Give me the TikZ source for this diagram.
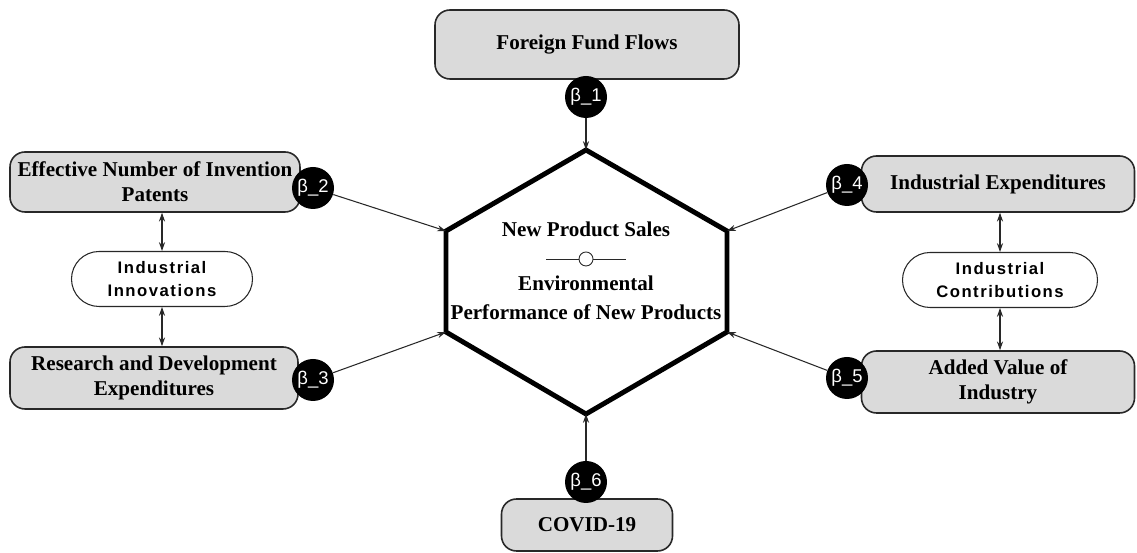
\documentclass[tikz,border=0pt]{standalone}
\usepackage{fontspec}
\setmainfont{Liberation Serif}
\newfontfamily\betafont{Liberation Sans}
\newfontfamily\spacedfont[LetterSpace=9]{Liberation Sans}
\usepackage{xcolor}
\usepackage{tikz}
\usetikzlibrary{arrows.meta, positioning, calc}
\definecolor{mydark}{RGB}{40,40,40}
\definecolor{boxgrey}{RGB}{218,218,218}
\tikzset{
  factor/.style={rectangle, draw=mydark, fill=boxgrey,
    align=center, font=\fontsize{12}{14.4}\selectfont\bfseries,
    rounded corners=0.3cm, line width=0.9pt},
  groupnode/.style={rectangle, draw=mydark, fill=white,
    align=center, font=\fontsize{9.5}{13}\selectfont\spacedfont\bfseries,
    rounded corners=0.55cm, line width=0.6pt},
  coef/.style={circle, fill=black, text=white, inner sep=0pt,
    minimum size=0.84cm, font=\fontsize{10.5}{12}\selectfont\betafont},
  arrow/.style={-{Stealth[length=5pt,width=3.5pt]}, line width=0.6pt, color=mydark},
  dblarrow/.style={{Stealth[length=5pt,width=3.5pt]}-{Stealth[length=5pt,width=3.5pt]}, line width=0.6pt, color=mydark},
  hexline/.style={line width=2.8pt, line join=miter}
}
\begin{document}
\begin{tikzpicture}
  \useasboundingbox (0,0) rectangle (22.74,11.06);

  % central hexagon
  \coordinate (hT) at (11.72,8.06);
  \coordinate (hB) at (11.72,2.78);
  \coordinate (hLU) at (8.92,6.44);
  \coordinate (hLL) at (8.92,4.42);
  \coordinate (hRU) at (14.54,6.44);
  \coordinate (hRL) at (14.54,4.42);
  \draw[hexline] (hT) -- (hRU) -- (hRL) -- (hB) -- (hLL) -- (hLU) -- cycle;

  \node[font=\fontsize{12}{14.4}\selectfont\bfseries] (sales) at (11.72,6.48) {New Product Sales};
  \node[circle, draw=mydark, line width=0.5pt, minimum size=0.28cm, inner sep=0pt] (mid) at (11.72,5.88) {};
  \draw[mydark, line width=0.4pt] (mid.west) -- ++(-0.66,0);
  \draw[mydark, line width=0.4pt] (mid.east) -- ++(0.66,0);
  \node[font=\fontsize{12}{14.4}\selectfont\bfseries] (env) at (11.72,5.40) {Environmental};
  \node[font=\fontsize{12}{14.4}\selectfont\bfseries] (perf) at (11.72,4.82) {Performance of New Products};

  % factors
  \node[factor, minimum width=6.08cm, minimum height=1.38cm] (fund) at (11.74,10.17) {Foreign Fund Flows};
  \node[factor, minimum width=5.80cm, minimum height=1.20cm] (patents) at (3.10,7.42) {Effective Number of Invention\\Patents};
  \node[factor, minimum width=5.76cm, minimum height=1.24cm] (rnd) at (3.08,3.50) {Research and Development\\Expenditures};
  \node[factor, minimum width=5.46cm, minimum height=1.12cm] (indexp) at (19.96,7.38) {Industrial Expenditures};
  \node[factor, minimum width=5.46cm, minimum height=1.24cm] (added) at (19.96,3.42) {Added Value of\\Industry};
  \node[factor, minimum width=3.42cm, minimum height=1.04cm] (covid) at (11.74,0.56) {COVID-19};

  \node[groupnode, minimum width=3.62cm, minimum height=1.10cm] (innov) at (3.24,5.48) {Industrial\\Innovations};
  \node[groupnode, minimum width=3.90cm, minimum height=1.10cm] (contrib) at (20.00,5.46) {Industrial\\Contributions};

  % coefficients
  \node[coef] (b1) at (11.72,9.12) {β\_1};
  \node[coef] (b2) at (6.26,7.30) {β\_2};
  \node[coef] (b3) at (6.26,3.46) {β\_3};
  \node[coef] (b4) at (16.94,7.36) {β\_4};
  \node[coef] (b5) at (16.94,3.50) {β\_5};
  \node[coef] (b6) at (11.72,1.42) {β\_6};

  \draw[arrow] (b1) -- (hT);
  \draw[arrow] (b2) -- (hLU);
  \draw[arrow] (b3) -- (hLL);
  \draw[arrow] (b4) -- (hRU);
  \draw[arrow] (b5) -- (hRL);
  \draw[arrow] (b6) -- (hB);

  \draw[dblarrow] (innov.north) -- (innov.north |- patents.south);
  \draw[dblarrow] (innov.south) -- (innov.south |- rnd.north);
  \draw[dblarrow] (contrib.north) -- (contrib.north |- indexp.south);
  \draw[dblarrow] (contrib.south) -- (contrib.south |- added.north);
\end{tikzpicture}
\end{document}
